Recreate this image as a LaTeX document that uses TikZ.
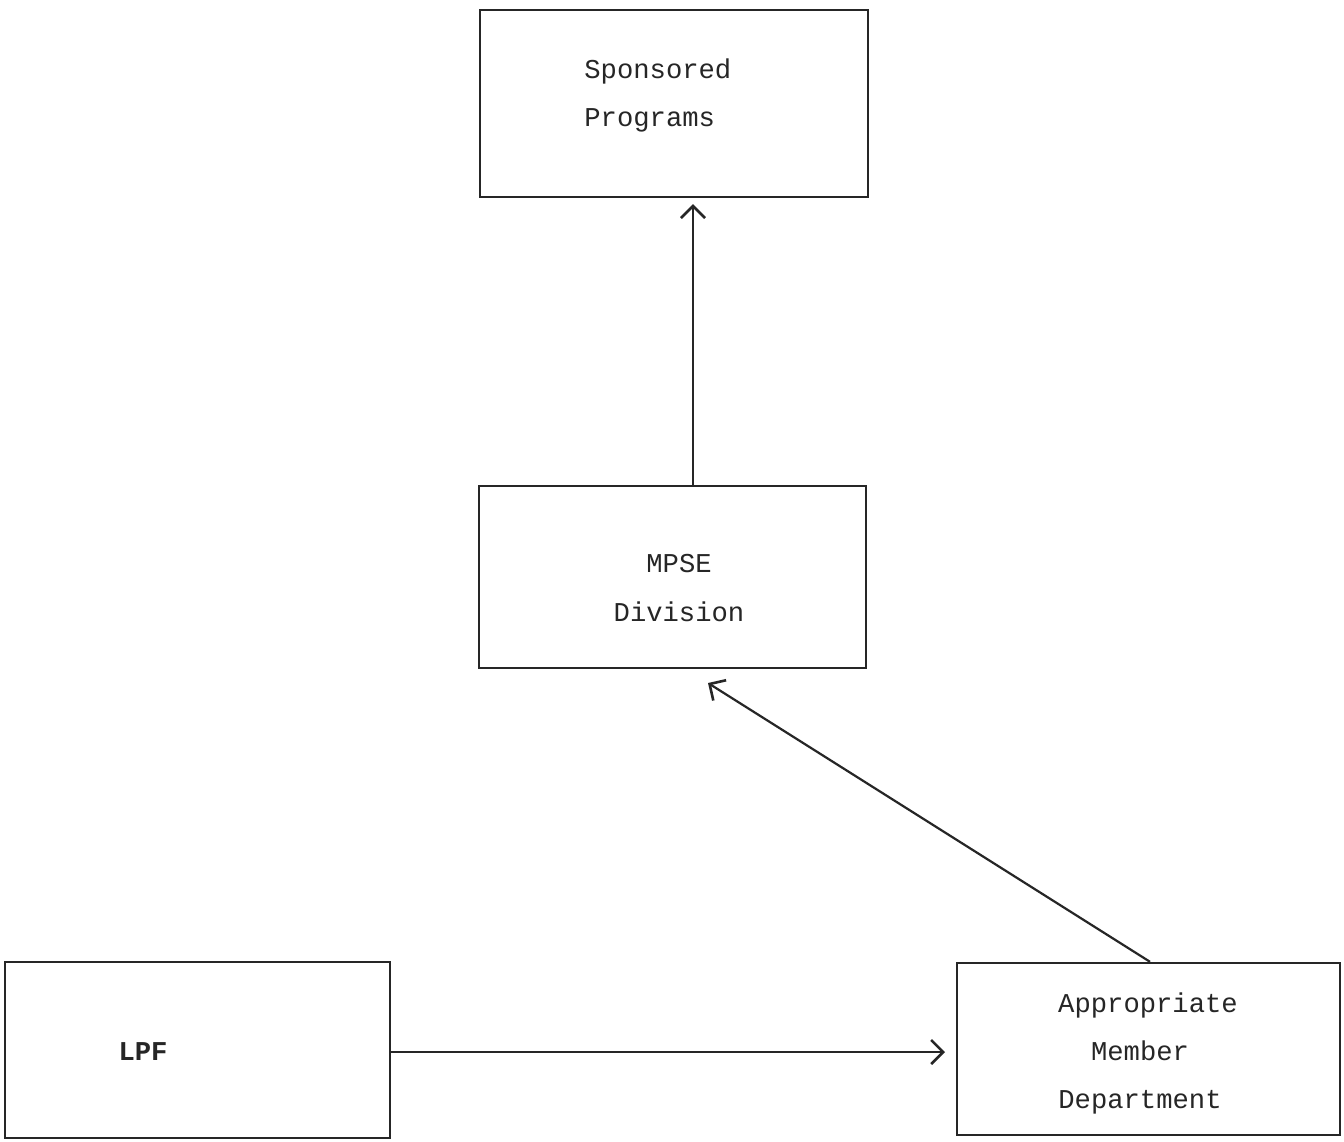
\documentclass[tikz,border=0pt]{standalone}
\usepackage{fontspec}
\setmainfont{Liberation Mono}
\usetikzlibrary{arrows.meta,calc}
\begin{document}
\begin{tikzpicture}[x=0.5pt,y=-0.5pt,
  box/.style={draw=black!85,line width=1.2pt,minimum width=#1,inner sep=0pt},
  txt/.style={inner sep=0pt,anchor=mid,font=\fontsize{13.6}{24}\selectfont,text=black!85},
  flow/.style={draw=black!85,line width=1.1pt,-{Straight Barb[length=6pt,width=12pt,line width=1.3pt]}}]
\useasboundingbox (0,0) rectangle (1344,1141);
\fill[white] (0,0) rectangle (1344,1141);

% boxes
\node[box=194pt,minimum height=93.5pt] (sp) at (674,103.5) {};
\node[box=193.5pt,minimum height=91pt] (mpse) at (672.5,577) {};
\node[box=192.5pt,minimum height=88pt] (lpf) at (197.5,1050) {};
\node[box=191.5pt,minimum height=86pt] (amd) at (1148.5,1049) {};

% labels
\node[txt,anchor=mid west] (spa) at (584,73) {Sponsored};
\node[txt,anchor=mid west] (spb) at (584,121) {Programs};
\node[txt] (mpa) at (679,567) {MPSE};
\node[txt] (mpb) at (679,616) {Division};
\node[txt,font=\fontsize{13.6}{24}\selectfont\bfseries] (lpft) at (143,1055) {LPF};
\node[txt] (amda) at (1148,1007) {Appropriate};
\node[txt] (amdb) at (1140,1055) {Member};
\node[txt] (amdc) at (1140,1103) {Department};

% connectors
\coordinate (e1) at ($(sp.south)+(19,6)$);
\coordinate (e2) at (708,683);
\coordinate (e3) at (945,1052);
\draw[flow] ($(mpse.north)+(20.5,0)$) -- (e1);
\draw[flow] ($(amd.north)+(1.5,0)$) -- (e2);
\draw[flow] ($(lpf.east)+(0,2)$) -- (e3);
\end{tikzpicture}
\end{document}
